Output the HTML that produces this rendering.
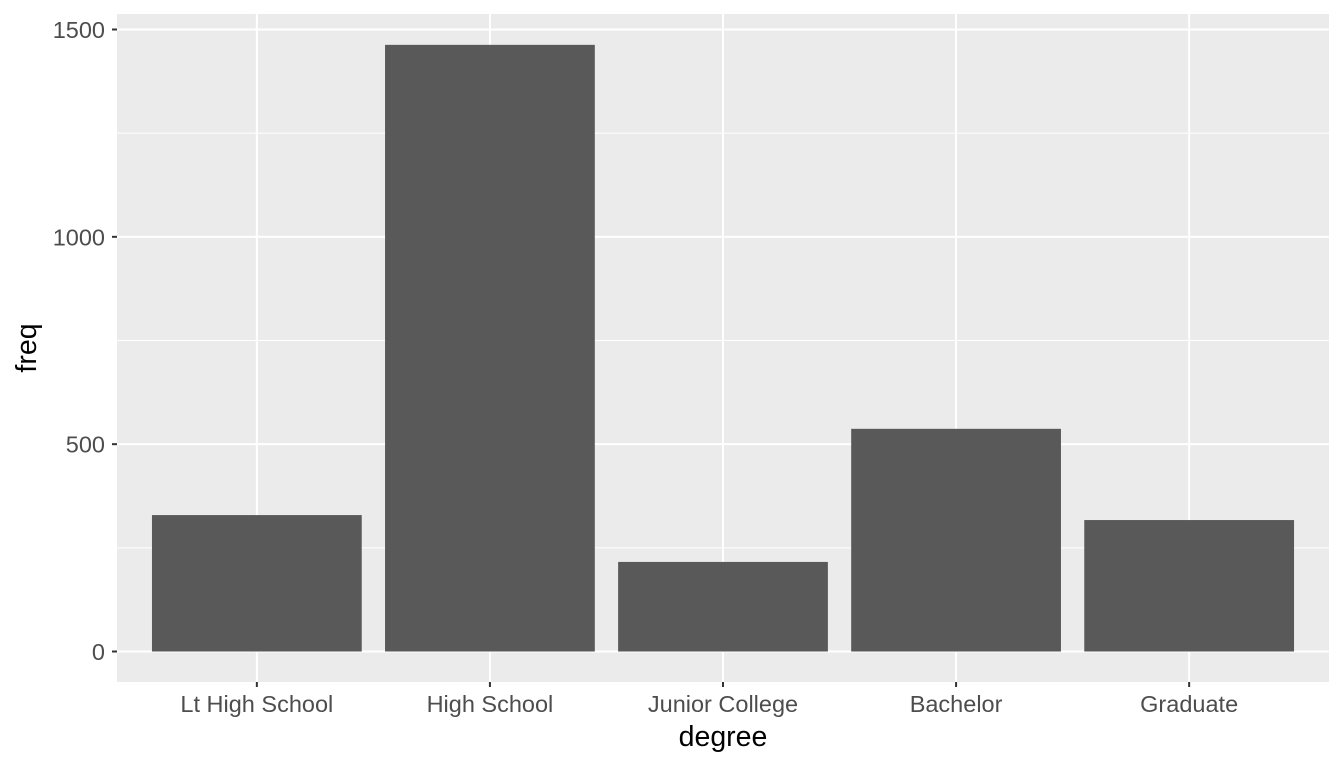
<!DOCTYPE html>
<html><head><meta charset="utf-8"><style>
html,body{margin:0;padding:0;background:#fff;}
svg{display:block;font-family:"Liberation Sans",sans-serif;}
</style></head><body>
<svg id="chart" width="1344" height="768"></svg>
<script>
const categories = ["Lt High School","High School","Junior College","Bachelor","Graduate"];
const freqValues = [329, 1463, 216, 537, 317];
const yTicks = [0, 500, 1000, 1500];
const yMinor = [250, 750, 1250];

const NS = "http://www.w3.org/2000/svg";
const svg = document.getElementById("chart");
const P = {l:117, r:1329, t:14, b:682};
const yScale = v => 651.5 - v * (622/1500);
const xScale = i => P.l + (i + 0.6) * ((P.r - P.l) / 5.2);
const bw = 0.9 * ((P.r - P.l) / 5.2);

function mk(tag, attrs, parent){
  const e = document.createElementNS(NS, tag);
  for (const k in attrs) e.setAttribute(k, attrs[k]);
  (parent||svg).appendChild(e);
  return e;
}

const panel = mk("rect",{x:P.l,y:P.t,width:P.r-P.l,height:P.b-P.t,fill:"#EBEBEB"});



yMinor.forEach(v=>{
  const l = mk("line",{x1:P.l,x2:P.r,y1:yScale(v),y2:yScale(v),stroke:"#fff","stroke-width":1});
  
  
});
yTicks.forEach(v=>{
  const l = mk("line",{x1:P.l,x2:P.r,y1:yScale(v),y2:yScale(v),stroke:"#fff","stroke-width":2});
  
  
  const t = mk("line",{x1:P.l-5,x2:P.l,y1:yScale(v),y2:yScale(v),stroke:"#333","stroke-width":2});
  
  
  const tx = mk("text",{x:P.l-12,y:yScale(v)+8.5,"text-anchor":"end","font-size":23.5,fill:"#4D4D4D"});
  tx.textContent = v;
  
  
});
categories.forEach((c,i)=>{
  const x = xScale(i);
  const g = mk("line",{x1:x,x2:x,y1:P.t,y2:P.b,stroke:"#fff","stroke-width":2});
  
  
});
categories.forEach((c,i)=>{
  const x = xScale(i);
  const b = mk("rect",{x:x-bw/2,y:yScale(freqValues[i]),width:bw,height:yScale(0)-yScale(freqValues[i]),fill:"#595959"});
  
  
  const t = mk("line",{x1:x,x2:x,y1:P.b,y2:P.b+5,stroke:"#333","stroke-width":2});
  
  
  const tx = mk("text",{x:x,y:P.b+30,"text-anchor":"middle","font-size":23.5,fill:"#4D4D4D"});
  tx.textContent = c;
  
  
});
const xt = mk("text",{x:(P.l+P.r)/2,y:746,"text-anchor":"middle","font-size":28.5,fill:"#000"});
xt.textContent = "degree";


const yt = mk("text",{x:0,y:0,"text-anchor":"middle","font-size":28.5,fill:"#000",transform:"translate(36,"+((P.t+P.b)/2)+") rotate(-90)"});
yt.textContent = "freq";


</script>
</body></html>
